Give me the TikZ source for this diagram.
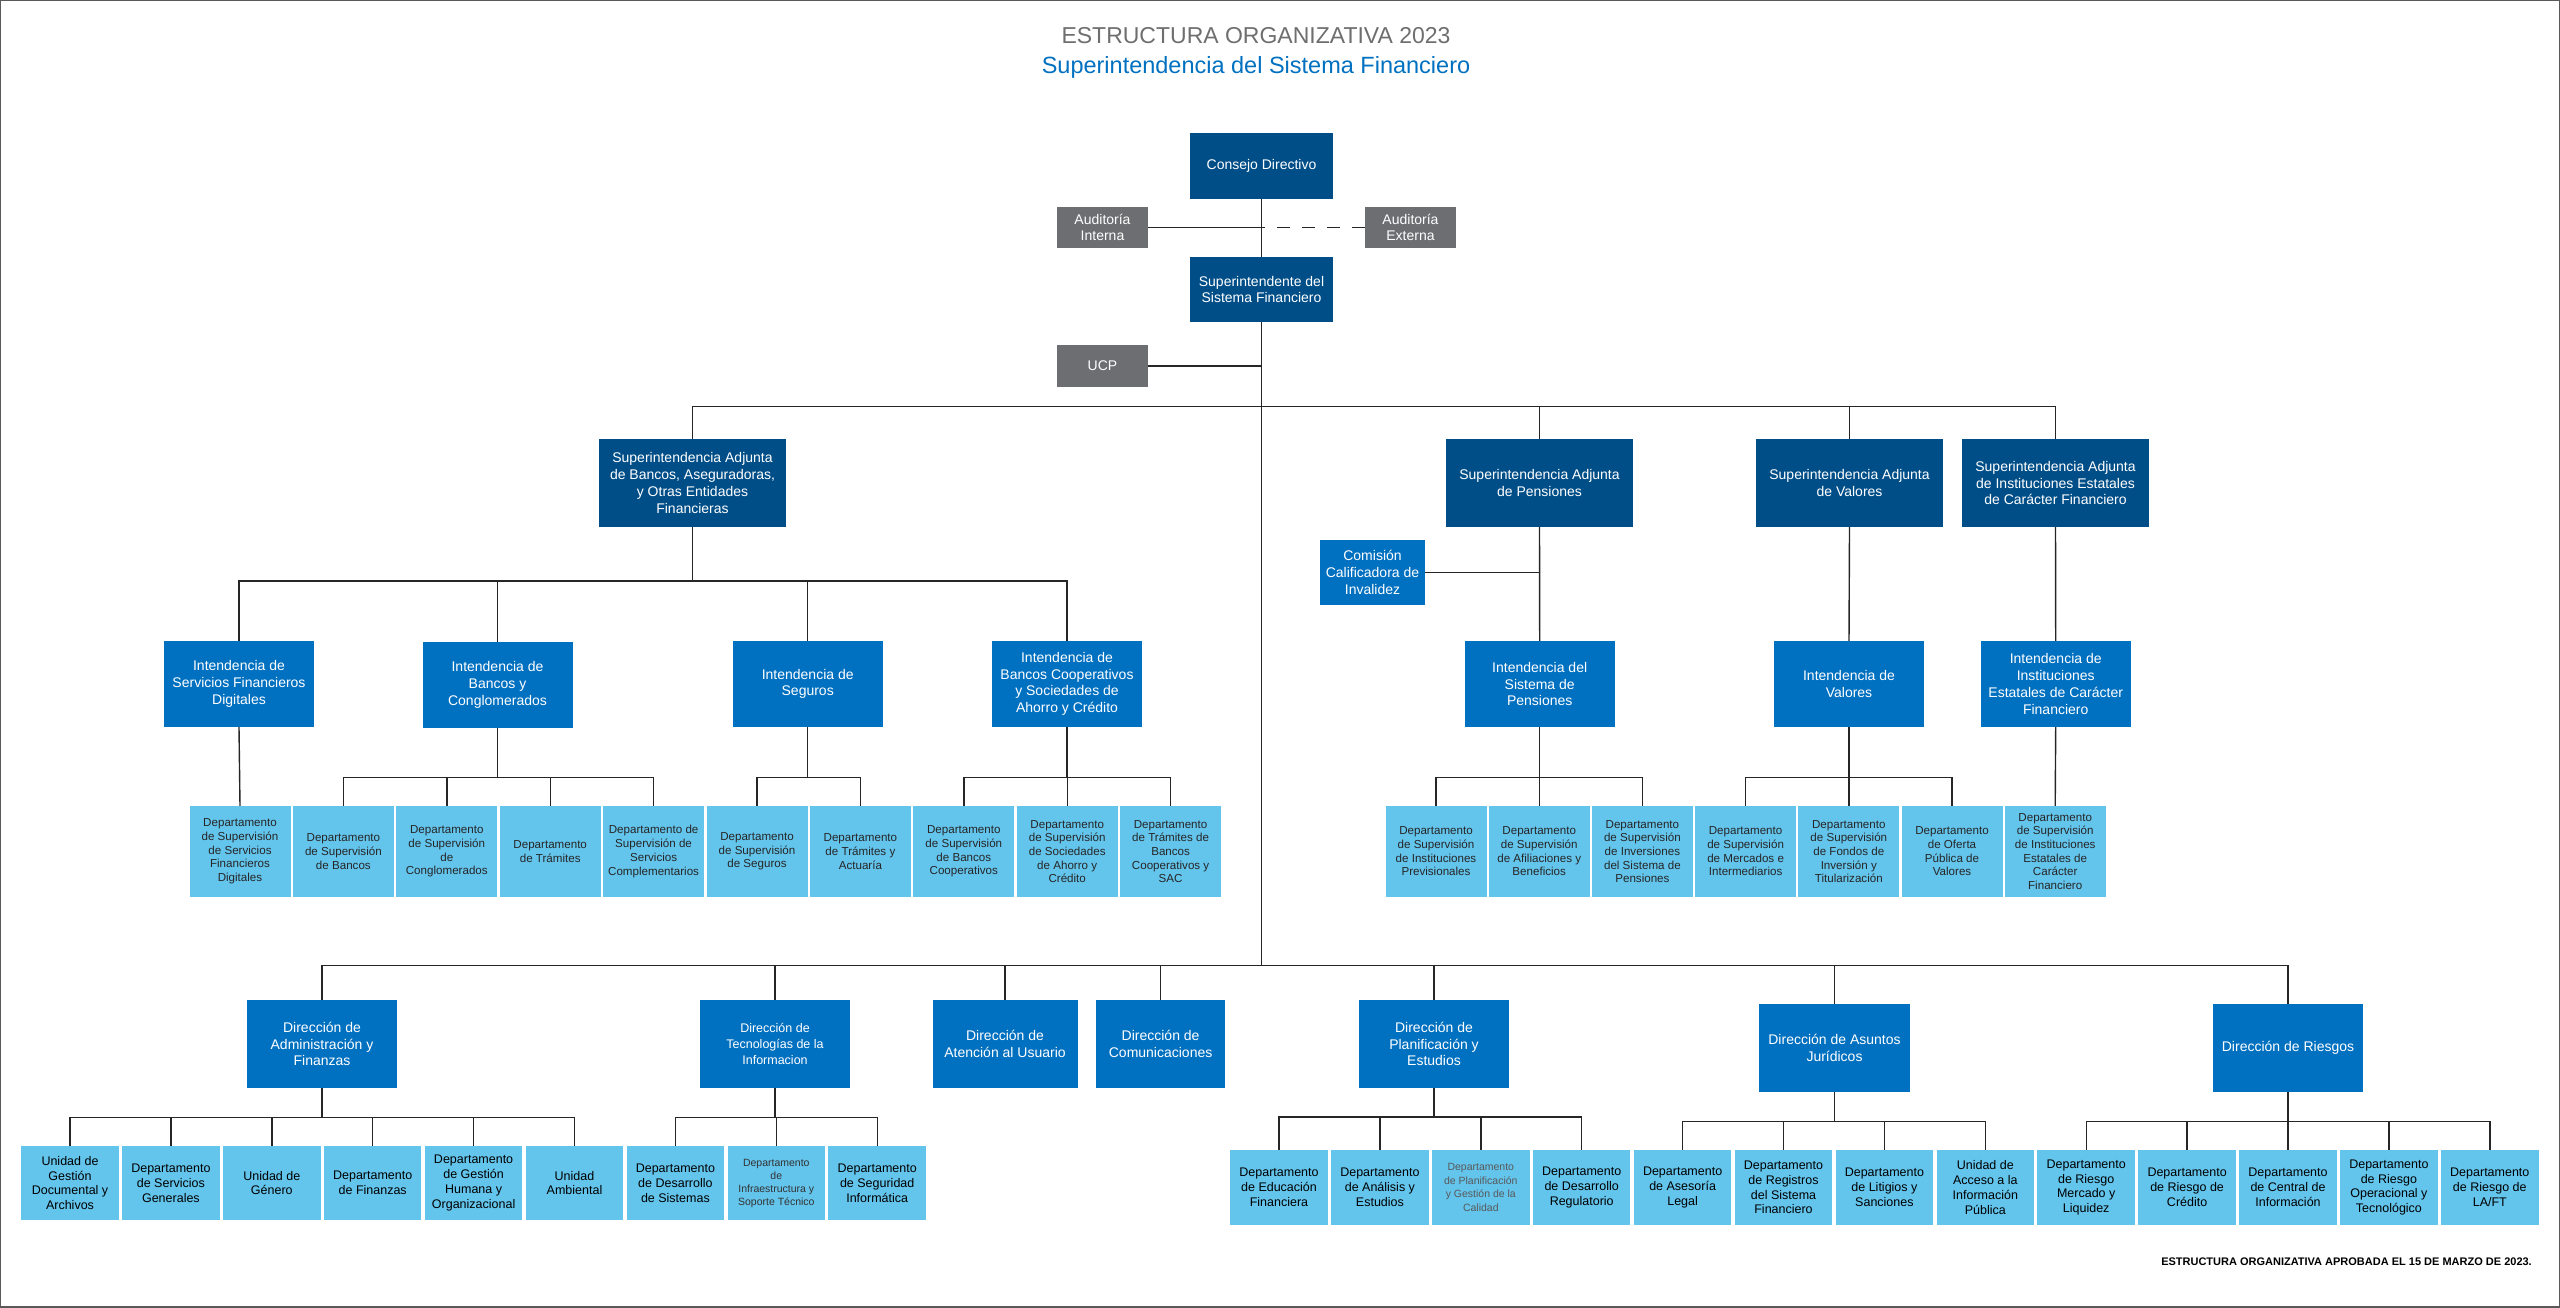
\documentclass[tikz,border=0pt]{standalone}
\usepackage{fontspec}
\setmainfont{Liberation Sans}
\usetikzlibrary{positioning}

\definecolor{ssfnavy}{RGB}{0,78,136}
\definecolor{ssfblue}{RGB}{0,112,192}
\definecolor{ssflight}{RGB}{99,196,236}
\definecolor{ssfgray}{RGB}{108,110,113}
\definecolor{ssftitle}{RGB}{110,110,110}

\tikzset{
  box/.style={draw=none, inner sep=0pt, align=center},
  navybox/.style={box, fill=ssfnavy, text=white, font=\fontsize{14}{16.7}\selectfont},
  greybox/.style={box, fill=ssfgray, text=white, font=\fontsize{14}{16.7}\selectfont, minimum width=91pt, minimum height=41pt},
  bluebox/.style={box, fill=ssfblue, text=white, font=\fontsize{14}{16.7}\selectfont},
  adjbox/.style={navybox, minimum width=187pt, minimum height=88pt},
  intbox/.style={bluebox, minimum width=150pt, minimum height=86pt},
  dirbox/.style={bluebox, minimum height=88pt},
  deptbox/.style={box, fill=ssflight, text=black!85, font=\fontsize{11.6}{13.7}\selectfont, minimum width=101pt, minimum height=91pt},
  unitbox/.style={box, fill=ssflight, text=black, font=\fontsize{12.5}{14.8}\selectfont, minimum width=97.5pt, minimum height=74pt},
  link/.style={draw=black!85, line width=1.4pt},
}

\begin{document}
\begin{tikzpicture}[x=1pt, y=-1pt]
  \useasboundingbox (0,0) rectangle (2560,1307);
  \draw[gray!70!black, line width=2pt] (0,0) rectangle (2560,1307);

  % titles
  \node[anchor=base, inner sep=0pt, font=\fontsize{23}{27}\selectfont, text=ssftitle] (title) at (1256,43) {ESTRUCTURA ORGANIZATIVA 2023};
  \node[anchor=base, inner sep=0pt, font=\fontsize{23.5}{27}\selectfont, text=ssfblue] (subtitle) at (1256,73) {Superintendencia del Sistema Financiero};

  % top level
  \node[navybox, minimum width=143pt, minimum height=66pt] (consejo) at (1261.5,166) {Consejo Directivo};
  \node[greybox] (audint) at (1102.5,227.5) {Auditoría\\Interna};
  \node[greybox] (audext) at (1410.5,227.5) {Auditoría\\Externa};
  \node[navybox, minimum width=143pt, minimum height=65pt] (superint) at (1261.5,289.5) {Superintendente del\\Sistema Financiero};
  \node[greybox, minimum height=42pt] (ucp) at (1102.5,366) {UCP};

  % superintendencias adjuntas
  \node[adjbox] (adjbancos) at (692.5,483) {Superintendencia Adjunta\\de Bancos, Aseguradoras,\\y Otras Entidades\\Financieras};
  \node[adjbox] (adjpens) at (1539.5,483) {Superintendencia Adjunta\\de Pensiones};
  \node[adjbox] (adjval) at (1849.5,483) {Superintendencia Adjunta\\de Valores};
  \node[adjbox] (adjie) at (2055.5,483) {Superintendencia Adjunta\\de Instituciones Estatales\\de Carácter Financiero};
  \node[bluebox, minimum width=105pt, minimum height=65pt] (comision) at (1372.5,572.5) {Comisión\\Calificadora de\\Invalidez};

  % intendencias
  \node[intbox] (intdig) at (239,684) {Intendencia de\\Servicios Financieros\\Digitales};
  \node[intbox] (intbancos) at (497.5,685) {Intendencia de\\Bancos y\\Conglomerados};
  \node[intbox] (intseg) at (807.7,684) {Intendencia de\\Seguros};
  \node[intbox] (intcoop) at (1067,684) {Intendencia de\\Bancos Cooperativos\\y Sociedades de\\Ahorro y Crédito};
  \node[intbox] (intpens) at (1539.7,684) {Intendencia del\\Sistema de\\Pensiones};
  \node[intbox] (intval) at (1849,684) {Intendencia de\\Valores};
  \node[intbox] (intie) at (2055.7,684) {Intendencia de\\Instituciones\\Estatales de Carácter\\Financiero};

  % departamentos de supervision
  \node[deptbox] (d1) at (240,851.5) {Departamento\\de Supervisión\\de Servicios\\Financieros\\Digitales};
  \node[deptbox] (d2) at (343.4,851.5) {Departamento\\de Supervisión\\de Bancos};
  \node[deptbox] (d3) at (446.8,851.5) {Departamento\\de Supervisión\\de\\Conglomerados};
  \node[deptbox] (d4) at (550.2,851.5) {Departamento\\de Trámites};
  \node[deptbox] (d5) at (653.6,851.5) {Departamento de\\Supervisión de\\Servicios\\Complementarios};
  \node[deptbox] (d6) at (757,851.5) {Departamento\\de Supervisión\\de Seguros};
  \node[deptbox] (d7) at (860.4,851.5) {Departamento\\de Trámites y\\Actuaría};
  \node[deptbox] (d8) at (963.8,851.5) {Departamento\\de Supervisión\\de Bancos\\Cooperativos};
  \node[deptbox] (d9) at (1067.2,851.5) {Departamento\\de Supervisión\\de Sociedades\\de Ahorro y\\Crédito};
  \node[deptbox] (d10) at (1170.6,851.5) {Departamento\\de Trámites de\\Bancos\\Cooperativos y\\SAC};
  \node[deptbox] (d11) at (1436,851.5) {Departamento\\de Supervisión\\de Instituciones\\Previsionales};
  \node[deptbox] (d12) at (1539.2,851.5) {Departamento\\de Supervisión\\de Afiliaciones y\\Beneficios};
  \node[deptbox] (d13) at (1642.4,851.5) {Departamento\\de Supervisión\\de Inversiones\\del Sistema de\\Pensiones};
  \node[deptbox] (d14) at (1745.6,851.5) {Departamento\\de Supervisión\\de Mercados e\\Intermediarios};
  \node[deptbox] (d15) at (1848.8,851.5) {Departamento\\de Supervisión\\de Fondos de\\Inversión y\\Titularización};
  \node[deptbox] (d16) at (1952,851.5) {Departamento\\de Oferta\\Pública de\\Valores};
  \node[deptbox] (d17) at (2055.2,851.5) {Departamento\\de Supervisión\\de Instituciones\\Estatales de\\Carácter\\Financiero};

  % direcciones
  \node[dirbox, minimum width=150pt] (dadm) at (322,1044) {Dirección de\\Administración y\\Finanzas};
  \node[dirbox, minimum width=150pt, font=\fontsize{12.5}{15.7}\selectfont] (dtec) at (775,1044) {Dirección de\\Tecnologías de la\\Informacion};
  \node[dirbox, minimum width=145pt] (daten) at (1005,1044) {Dirección de\\Atención al Usuario};
  \node[dirbox, minimum width=129pt] (dcom) at (1160.6,1044) {Dirección de\\Comunicaciones};
  \node[dirbox, minimum width=150pt] (dplan) at (1434,1044) {Dirección de\\Planificación y\\Estudios};
  \node[dirbox, minimum width=151pt] (djur) at (1834.5,1047.7) {Dirección de Asuntos\\Jurídicos};
  \node[dirbox, minimum width=150pt] (drie) at (2288,1047.7) {Dirección de Riesgos};

  % unidades y departamentos de apoyo
  \node[unitbox] (b1) at (70,1183) {Unidad de\\Gestión\\Documental y\\Archivos};
  \node[unitbox] (b2) at (170.9,1183) {Departamento\\de Servicios\\Generales};
  \node[unitbox] (b3) at (271.8,1183) {Unidad de\\Género};
  \node[unitbox] (b4) at (372.7,1183) {Departamento\\de Finanzas};
  \node[unitbox] (b5) at (473.6,1183) {Departamento\\de Gestión\\Humana y\\Organizacional};
  \node[unitbox] (b6) at (574.5,1183) {Unidad\\Ambiental};
  \node[unitbox] (b7) at (675.4,1183) {Departamento\\de Desarrollo\\de Sistemas};
  \node[unitbox, font=\fontsize{10.5}{13}\selectfont, text=black!80] (b8) at (776.3,1183) {Departamento\\de\\Infraestructura y\\Soporte Técnico};
  \node[unitbox] (b9) at (877.2,1183) {Departamento\\de Seguridad\\Informática};

  \node[unitbox, minimum height=75pt] (b10) at (1279,1187.5) {Departamento\\de Educación\\Financiera};
  \node[unitbox, minimum height=75pt] (b11) at (1379.9,1187.5) {Departamento\\de Análisis y\\Estudios};
  \node[unitbox, minimum height=75pt, font=\fontsize{10.5}{13.5}\selectfont, text=black!65] (b12) at (1480.8,1187.5) {Departamento\\de Planificación\\y Gestión de la\\Calidad};
  \node[unitbox, minimum height=75pt] (b13) at (1581.7,1187.5) {Departamento\\de Desarrollo\\Regulatorio};
  \node[unitbox, minimum height=75pt] (b14) at (1682.6,1187.5) {Departamento\\de Asesoría\\Legal};
  \node[unitbox, minimum height=75pt] (b15) at (1783.5,1187.5) {Departamento\\de Registros\\del Sistema\\Financiero};
  \node[unitbox, minimum height=75pt] (b16) at (1884.4,1187.5) {Departamento\\de Litigios y\\Sanciones};
  \node[unitbox, minimum height=75pt] (b17) at (1985.3,1187.5) {Unidad de\\Acceso a la\\Información\\Pública};
  \node[unitbox, minimum height=75pt] (b18) at (2086.2,1187.5) {Departamento\\de Riesgo\\Mercado y\\Liquidez};
  \node[unitbox, minimum height=75pt] (b19) at (2187.1,1187.5) {Departamento\\de Riesgo de\\Crédito};
  \node[unitbox, minimum height=75pt] (b20) at (2288,1187.5) {Departamento\\de Central de\\Información};
  \node[unitbox, minimum height=75pt] (b21) at (2388.9,1187.5) {Departamento\\de Riesgo\\Operacional y\\Tecnológico};
  \node[unitbox, minimum height=75pt] (b22) at (2489.8,1187.5) {Departamento\\de Riesgo de\\LA/FT};

  \node[anchor=base east, inner sep=0pt, font=\bfseries\fontsize{11}{13}\selectfont] (aprobada) at (2532,1265) {ESTRUCTURA ORGANIZATIVA APROBADA EL 15 DE MARZO DE 2023.};

  % connectors
  \coordinate (adjbus) at (1261.5,406.7);
  \coordinate (dirbus) at (1261.5,965.7);
  \draw[link] (consejo) -- (superint);
  \draw[link] (audint.east) -- (audint.east -| consejo.south);
  \draw[link, dash pattern=on 12.5pt off 12.5pt] (audext.west) -- (audext.west -| consejo.south);
  \draw[link] (superint.south) -- (dirbus);
  \draw[link] (ucp.east) -- (ucp.east -| superint.south);
  \foreach \n in {adjbancos,adjpens,adjval,adjie}
    \draw[link] (adjbus) -| (\n.north);

  \draw[link] (adjbancos.south) -- ++(0,53.7) coordinate (bancbus);
  \foreach \n in {intdig,intbancos,intseg,intcoop}
    \draw[link] (bancbus) -| (\n.north);
  \draw[link] (adjpens.south) -- (intpens.north);
  \draw[link] (comision.east) -- (comision.east -| adjpens.south);
  \draw[link] (adjval.south) -- (intval.north);
  \draw[link] (adjie.south) -- (intie.north);

  \draw[link] (intdig.south) -- (d1.north);
  \draw[link] (intbancos.south) -- ++(0,49) coordinate (ibbus);
  \foreach \n in {d2,d3,d4,d5}
    \draw[link] (ibbus) -| (\n.north);
  \draw[link] (intseg.south) -- ++(0,50) coordinate (isbus);
  \foreach \n in {d6,d7}
    \draw[link] (isbus) -| (\n.north);
  \draw[link] (intcoop.south) -- ++(0,50) coordinate (icbus);
  \foreach \n in {d8,d9,d10}
    \draw[link] (icbus) -| (\n.north);
  \draw[link] (intpens.south) -- ++(0,50) coordinate (ipbus);
  \foreach \n in {d11,d12,d13}
    \draw[link] (ipbus) -| (\n.north);
  \draw[link] (intval.south) -- ++(0,50) coordinate (ivbus);
  \foreach \n in {d14,d15,d16}
    \draw[link] (ivbus) -| (\n.north);
  \draw[link] (intie.south) -- (d17.north);

  \foreach \n in {dadm,dtec,daten,dcom,dplan,djur,drie}
    \draw[link] (dirbus) -| (\n.north);

  \draw[link] (dadm.south) -- ++(0,29) coordinate (admbus);
  \foreach \n in {b1,b2,b3,b4,b5,b6}
    \draw[link] (admbus) -| (\n.north);
  \draw[link] (dtec.south) -- ++(0,29) coordinate (tecbus);
  \foreach \n in {b7,b8,b9}
    \draw[link] (tecbus) -| (\n.north);
  \draw[link] (dplan.south) -- ++(0,28.7) coordinate (planbus);
  \foreach \n in {b10,b11,b12,b13}
    \draw[link] (planbus) -| (\n.north);
  \draw[link] (djur.south) -- ++(0,29.3) coordinate (jurbus);
  \foreach \n in {b14,b15,b16,b17}
    \draw[link] (jurbus) -| (\n.north);
  \draw[link] (drie.south) -- ++(0,29.3) coordinate (riebus);
  \foreach \n in {b18,b19,b20,b21,b22}
    \draw[link] (riebus) -| (\n.north);
\end{tikzpicture}
\end{document}
